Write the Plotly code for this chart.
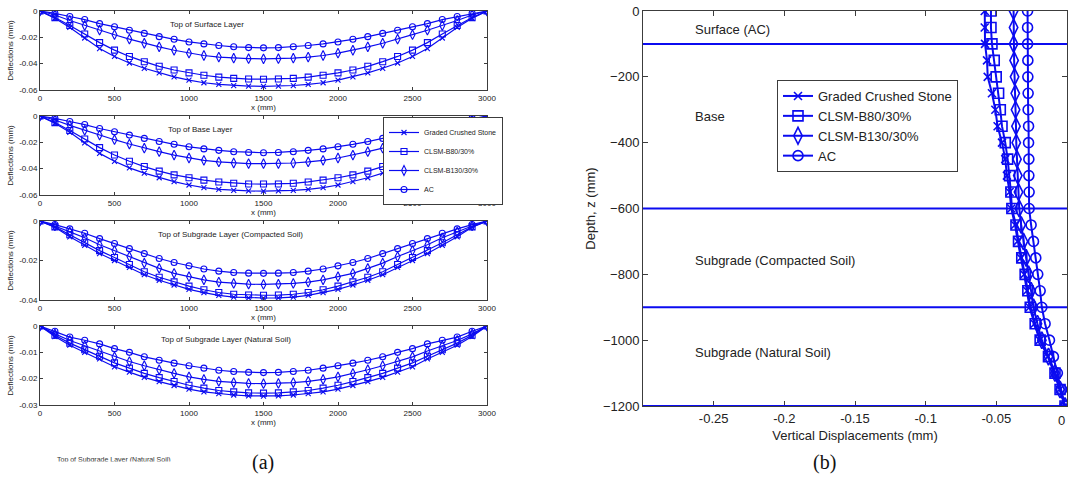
import plotly.graph_objects as go

# ---------------- data ----------------
series_names = ["Graded Crushed Stone", "CLSM-B80/30%", "CLSM-B130/30%", "AC"]
x_mm = [0, 100, 200, 300, 400, 500, 600, 700, 800, 900, 1000, 1100, 1200, 1300, 1400, 1500,
        1600, 1700, 1800, 1900, 2000, 2100, 2200, 2300, 2400, 2500, 2600, 2700, 2800, 2900, 3000]

# Top of Surface Layer
surf_gcs = [0, -0.0055, -0.0125, -0.0205, -0.0285, -0.0345, -0.0395, -0.0435, -0.0470, -0.0500, -0.0525,
            -0.0545, -0.0558, -0.0566, -0.0570, -0.0572, -0.0570, -0.0566, -0.0558, -0.0545, -0.0525,
            -0.0500, -0.0470, -0.0435, -0.0395, -0.0345, -0.0285, -0.0205, -0.0125, -0.0055, 0]
surf_b80 = [0, -0.0050, -0.0110, -0.0175, -0.0240, -0.0297, -0.0345, -0.0385, -0.0420, -0.0448, -0.0470,
            -0.0488, -0.0502, -0.0512, -0.0517, -0.0518, -0.0517, -0.0512, -0.0502, -0.0488, -0.0470,
            -0.0448, -0.0420, -0.0385, -0.0345, -0.0297, -0.0240, -0.0175, -0.0110, -0.0050, 0]
surf_b130 = [0, -0.0030, -0.0072, -0.0110, -0.0146, -0.0180, -0.0214, -0.0245, -0.0272, -0.0298, -0.0320,
             -0.0338, -0.0350, -0.0358, -0.0362, -0.0363, -0.0362, -0.0358, -0.0350, -0.0338, -0.0320,
             -0.0298, -0.0272, -0.0245, -0.0214, -0.0180, -0.0146, -0.0110, -0.0072, -0.0030, 0]
surf_ac = [0, -0.0018, -0.0042, -0.0065, -0.0096, -0.0120, -0.0146, -0.0170, -0.0195, -0.0215, -0.0235,
           -0.0250, -0.0262, -0.0272, -0.0278, -0.0280, -0.0278, -0.0272, -0.0262, -0.0250, -0.0235,
           -0.0215, -0.0195, -0.0170, -0.0146, -0.0120, -0.0096, -0.0065, -0.0042, -0.0018, 0]

# Top of Base Layer
base_gcs = [0, -0.0055, -0.0124, -0.0204, -0.0284, -0.0344, -0.0394, -0.0434, -0.0469, -0.0499, -0.0524,
            -0.0544, -0.0557, -0.0565, -0.0569, -0.0571, -0.0569, -0.0565, -0.0557, -0.0544, -0.0524,
            -0.0499, -0.0469, -0.0434, -0.0394, -0.0344, -0.0284, -0.0204, -0.0124, -0.0055, 0]
base_b80 = [0, -0.0050, -0.0110, -0.0175, -0.0240, -0.0296, -0.0344, -0.0384, -0.0419, -0.0447, -0.0469,
            -0.0487, -0.0501, -0.0511, -0.0516, -0.0517, -0.0516, -0.0511, -0.0501, -0.0487, -0.0469,
            -0.0447, -0.0419, -0.0384, -0.0344, -0.0296, -0.0240, -0.0175, -0.0110, -0.0050, 0]
base_b130 = [0, -0.0030, -0.0071, -0.0109, -0.0145, -0.0180, -0.0213, -0.0244, -0.0271, -0.0297, -0.0319,
             -0.0337, -0.0349, -0.0357, -0.0361, -0.0362, -0.0361, -0.0357, -0.0349, -0.0337, -0.0319,
             -0.0297, -0.0271, -0.0244, -0.0213, -0.0180, -0.0145, -0.0109, -0.0071, -0.0030, 0]
base_ac = [0, -0.0018, -0.0042, -0.0065, -0.0095, -0.0120, -0.0145, -0.0170, -0.0194, -0.0215, -0.0234,
           -0.0250, -0.0261, -0.0271, -0.0277, -0.0279, -0.0277, -0.0271, -0.0261, -0.0250, -0.0234,
           -0.0215, -0.0194, -0.0170, -0.0145, -0.0120, -0.0095, -0.0065, -0.0042, -0.0018, 0]

# Top of Subgrade Layer (Compacted Soil)
comp_gcs = [0, -0.0032, -0.0080, -0.0123, -0.0165, -0.0200, -0.0235, -0.0272, -0.0300, -0.0324, -0.0346,
            -0.0363, -0.0377, -0.0385, -0.0389, -0.0390, -0.0389, -0.0385, -0.0377, -0.0363, -0.0346,
            -0.0324, -0.0300, -0.0272, -0.0235, -0.0200, -0.0165, -0.0123, -0.0080, -0.0032, 0]
comp_b80 = [0, -0.0030, -0.0070, -0.0110, -0.0150, -0.0185, -0.0220, -0.0257, -0.0285, -0.0308, -0.0330,
            -0.0348, -0.0362, -0.0371, -0.0375, -0.0376, -0.0375, -0.0371, -0.0362, -0.0348, -0.0330,
            -0.0308, -0.0285, -0.0257, -0.0220, -0.0185, -0.0150, -0.0110, -0.0070, -0.0030, 0]
comp_b130 = [0, -0.0025, -0.0055, -0.0085, -0.0120, -0.0150, -0.0180, -0.0213, -0.0240, -0.0265, -0.0282,
             -0.0298, -0.0309, -0.0316, -0.0320, -0.0321, -0.0320, -0.0316, -0.0309, -0.0298, -0.0282,
             -0.0265, -0.0240, -0.0213, -0.0180, -0.0150, -0.0120, -0.0085, -0.0055, -0.0025, 0]
comp_ac = [0, -0.0018, -0.0040, -0.0062, -0.0089, -0.0114, -0.0140, -0.0165, -0.0190, -0.0210, -0.0227,
           -0.0243, -0.0254, -0.0261, -0.0264, -0.0265, -0.0264, -0.0261, -0.0254, -0.0243, -0.0227,
           -0.0210, -0.0190, -0.0165, -0.0140, -0.0114, -0.0089, -0.0062, -0.0040, -0.0018, 0]

# Top of Subgrade Layer (Natural Soil)
nat_gcs = [0, -0.0040, -0.0073, -0.0100, -0.0125, -0.0155, -0.0175, -0.0195, -0.0211, -0.0226, -0.0240,
           -0.0250, -0.0257, -0.0262, -0.0265, -0.0266, -0.0265, -0.0262, -0.0257, -0.0250, -0.0240,
           -0.0226, -0.0211, -0.0195, -0.0175, -0.0155, -0.0125, -0.0100, -0.0073, -0.0040, 0]
nat_b80 = [0, -0.0035, -0.0065, -0.0090, -0.0115, -0.0140, -0.0160, -0.0180, -0.0196, -0.0211, -0.0225,
           -0.0236, -0.0245, -0.0250, -0.0254, -0.0255, -0.0254, -0.0250, -0.0245, -0.0236, -0.0225,
           -0.0211, -0.0196, -0.0180, -0.0160, -0.0140, -0.0115, -0.0090, -0.0065, -0.0035, 0]
nat_b130 = [0, -0.0030, -0.0055, -0.0075, -0.0095, -0.0117, -0.0135, -0.0151, -0.0166, -0.0180, -0.0193,
            -0.0203, -0.0210, -0.0215, -0.0218, -0.0219, -0.0218, -0.0215, -0.0210, -0.0203, -0.0193,
            -0.0180, -0.0166, -0.0151, -0.0135, -0.0117, -0.0095, -0.0075, -0.0055, -0.0030, 0]
nat_ac = [0, -0.0020, -0.0042, -0.0054, -0.0068, -0.0086, -0.0100, -0.0117, -0.0130, -0.0141, -0.0151,
          -0.0160, -0.0168, -0.0173, -0.0176, -0.0177, -0.0176, -0.0173, -0.0168, -0.0160, -0.0151,
          -0.0141, -0.0130, -0.0117, -0.0100, -0.0086, -0.0068, -0.0054, -0.0042, -0.0020, 0]

# Vertical displacement profile (b)
depth_mm = [0, -50, -100, -150, -200, -250, -300, -350, -400, -450, -500, -550, -600,
            -650, -700, -750, -800, -850, -900, -950, -1000, -1050, -1100, -1150, -1200]
vd_gcs = [-0.0582, -0.0582, -0.0580, -0.0566, -0.0561, -0.0531, -0.0507, -0.0491, -0.0460, -0.0437, -0.0425,
          -0.0406, -0.0394, -0.0368, -0.0350, -0.0327, -0.0303, -0.0283, -0.0265, -0.0230, -0.0194,
          -0.0136, -0.0090, -0.0052, -0.0015]
vd_b80 = [-0.0538, -0.0538, -0.0531, -0.0515, -0.0501, -0.0484, -0.0472, -0.0460, -0.0437, -0.0420, -0.0406,
          -0.0397, -0.0390, -0.0361, -0.0343, -0.0320, -0.0296, -0.0277, -0.0260, -0.0225, -0.0190,
          -0.0131, -0.0085, -0.0049, -0.0014]
vd_b130 = [-0.0378, -0.0378, -0.0378, -0.0374, -0.0371, -0.0366, -0.0364, -0.0361, -0.0359, -0.0354, -0.0348,
           -0.0343, -0.0338, -0.0324, -0.0308, -0.0289, -0.0272, -0.0254, -0.0237, -0.0209, -0.0178,
           -0.0131, -0.0085, -0.0049, -0.0014]
vd_ac = [-0.0279, -0.0279, -0.0279, -0.0277, -0.0277, -0.0275, -0.0275, -0.0272, -0.0272, -0.0270, -0.0270,
         -0.0268, -0.0268, -0.0254, -0.0237, -0.0221, -0.0207, -0.0190, -0.0178, -0.0155, -0.0124,
         -0.0096, -0.0068, -0.0038, -0.0014]

layer_bounds = [-100, -600, -900, -1200]
layer_names = ["Surface (AC)", "Base", "Subgrade (Compacted Soil)", "Subgrade (Natural Soil)"]
layer_label_depth = [-55, -320, -758, -1036]

panel_titles = ["Top of Surface Layer", "Top of Base Layer",
                "Top of Subgrade Layer (Compacted Soil)", "Top of Subgrade Layer (Natural Soil)"]
panel_data = [
    [surf_gcs, surf_b80, surf_b130, surf_ac],
    [base_gcs, base_b80, base_b130, base_ac],
    [comp_gcs, comp_b80, comp_b130, comp_ac],
    [nat_gcs, nat_b80, nat_b130, nat_ac],
]
panel_yrange = [[-0.06, 0], [-0.06, 0], [-0.04, 0], [-0.03, 0]]
panel_yticks = [[0, -0.02, -0.04, -0.06], [0, -0.02, -0.04, -0.06], [0, -0.02, -0.04], [0, -0.01, -0.02, -0.03]]
panel_yticktext = [["0", "-0.02", "-0.04", "-0.06"], ["0", "-0.02", "-0.04", "-0.06"],
                   ["0", "-0.02", "-0.04"], ["0", "-0.01", "-0.02", "-0.03"]]
panel_title_x = [1120, 1080, 1280, 1250]

# ---------------- style ----------------
W, H = 1068, 492
BLUE = "#0b0bf0"
AX = "#3c3c3c"
FONT = "Liberation Sans, Arial, sans-serif"
symbols = ["x-thin-open", "square-open", "diamond-tall-open", "circle-open"]


def px_x(p):
    return p / W


def px_y(p):
    return 1 - p / H


left_x0, left_x1 = 40, 487
panel_tops = [11, 116, 221, 326]
panel_bottoms = [90, 195, 300, 405]

fig = go.Figure()

for i in range(4):
    ax_id = "" if i == 0 else str(i + 1)
    for j in range(4):
        fig.add_trace(go.Scatter(
            x=x_mm, y=panel_data[i][j], mode="lines+markers", name=series_names[j],
            xaxis="x" + ax_id, yaxis="y" + ax_id,
            line=dict(color=BLUE, width=1.2),
            marker=dict(symbol=symbols[j], size=[5, 6, 7, 6][j], color=BLUE, line=dict(width=1.1, color=BLUE)),
            showlegend=(i == 1), legend="legend2",
        ))

for j in range(4):
    ys = [vd_gcs, vd_b80, vd_b130, vd_ac][j]
    fig.add_trace(go.Scatter(
        x=ys, y=depth_mm, mode="lines+markers", name=series_names[j],
        xaxis="x5", yaxis="y5",
        line=dict(color=BLUE, width=2),
        marker=dict(symbol=symbols[j], size=[8, 10, 12, 10][j], color=BLUE, line=dict(width=1.6, color=BLUE)),
        showlegend=True, legend="legend",
    ))

layout = dict(
    width=W, height=H, margin=dict(l=0, r=0, t=0, b=0, autoexpand=False),
    paper_bgcolor="white", plot_bgcolor="white",
    font=dict(family=FONT, color="#222"),
)

annotations = []
for i in range(4):
    sfx = "" if i == 0 else str(i + 1)
    layout["xaxis" + sfx] = dict(
        domain=[px_x(left_x0), px_x(left_x1)], anchor="y" + sfx, range=[0, 3000], automargin=False,
        tickvals=[0, 500, 1000, 1500, 2000, 2500, 3000], ticks="inside", ticklen=3,
        tickcolor=AX, showline=True, linecolor=AX, linewidth=1, mirror="ticks",
        showgrid=False, zeroline=False, tickfont=dict(size=8, color="#222"),
        title=dict(text="x (mm)", font=dict(size=8, color="#222"), standoff=2),
    )
    layout["yaxis" + sfx] = dict(
        domain=[px_y(panel_bottoms[i]), px_y(panel_tops[i])], anchor="x" + sfx, automargin=False,
        range=panel_yrange[i], tickvals=panel_yticks[i], ticktext=panel_yticktext[i],
        ticks="inside", ticklen=3, tickcolor=AX, showline=True, linecolor=AX, linewidth=1,
        mirror="ticks", showgrid=False, zeroline=False, tickfont=dict(size=8, color="#222"),
        title=dict(text="Deflections (mm)", font=dict(size=8, color="#222"), standoff=4),
    )
    annotations.append(dict(
        text=panel_titles[i], xref="x" + sfx, yref="paper",
        x=panel_title_x[i], y=px_y(panel_tops[i] + 13), showarrow=False,
        font=dict(size=8, color="#222"), xanchor="center", yanchor="middle",
    ))

layout["xaxis5"] = dict(
    domain=[px_x(643), px_x(1067)], anchor="y5", range=[-0.3, 0], automargin=False,
    tickvals=[-0.25, -0.2, -0.15, -0.1, -0.05, 0], ticktext=["-0.25", "-0.2", "-0.15", "-0.1", "-0.05", "0"],
    ticks="inside", ticklen=5, tickcolor=AX, showline=True, linecolor=AX, linewidth=1, mirror="ticks",
    showgrid=False, zeroline=False, tickfont=dict(size=13, color="#222"),
    title=dict(text="Vertical Displacements (mm)", font=dict(size=13, color="#222"), standoff=6),
)
layout["yaxis5"] = dict(
    domain=[px_y(406), px_y(11)], anchor="x5", range=[-1200, 0], automargin=False,
    tickvals=[0, -200, -400, -600, -800, -1000, -1200],
    ticks="inside", ticklen=5, tickcolor=AX, showline=True, linecolor=AX, linewidth=1, mirror="ticks",
    showgrid=False, zeroline=False, tickfont=dict(size=13, color="#222"),
    title=dict(text="Depth, z (mm)", font=dict(size=13, color="#222"), standoff=4),
)

shapes = []
for b in layer_bounds:
    shapes.append(dict(type="line", xref="x5 domain", yref="y5", x0=0, x1=1, y0=b, y1=b,
                       line=dict(color=BLUE, width=2)))

for name, d in zip(layer_names, layer_label_depth):
    annotations.append(dict(text=name, xref="x5", yref="y5", x=-0.2645, y=d, showarrow=False,
                            xanchor="left", yanchor="middle", font=dict(size=13, color="#222")))

# right-edge "0" tick label (kept inside the page)
annotations.append(dict(text="0", xref="x5", yref="paper", x=0, y=px_y(420), showarrow=False,
                        xanchor="right", yanchor="middle", font=dict(size=13, color="#222")))

# panel captions
annotations.append(dict(text="(a)", xref="paper", yref="paper", x=px_x(250), y=px_y(476), showarrow=False,
                        font=dict(family="Liberation Serif, Times New Roman, serif", size=20, color="#111")))
annotations.append(dict(text="(b)", xref="paper", yref="paper", x=px_x(838), y=px_y(476), showarrow=False,
                        font=dict(family="Liberation Serif, Times New Roman, serif", size=20, color="#111")))
# stray, half-cut caption below the left figure
annotations.append(dict(text="Top of Subgrade Layer (Natural Soil)", xref="paper", yref="paper",
                        x=px_x(55), y=px_y(454), xanchor="left", yanchor="top", showarrow=False,
                        font=dict(size=7, color="#333")))
annotations.append(dict(text=" ", xref="paper", yref="paper", x=px_x(50), y=px_y(460.5), xanchor="left",
                        yanchor="top", showarrow=False, width=140, height=8, bgcolor="white"))

layout["annotations"] = annotations
layout["shapes"] = shapes

layout["legend"] = dict(
    x=px_x(777), y=px_y(80), xanchor="left", yanchor="top", xref="paper", yref="paper",
    bgcolor="white", bordercolor=AX, borderwidth=1, font=dict(size=13, color="#222"),
    itemwidth=30, tracegroupgap=0,
)
layout["legend2"] = dict(
    x=px_x(383), y=px_y(117), xanchor="left", yanchor="top", xref="paper", yref="paper",
    bgcolor="white", bordercolor=AX, borderwidth=1, font=dict(size=7, color="#222"),
    itemwidth=30, tracegroupgap=0,
)

fig.update_layout(**layout)
fig.write_html("out.html")
